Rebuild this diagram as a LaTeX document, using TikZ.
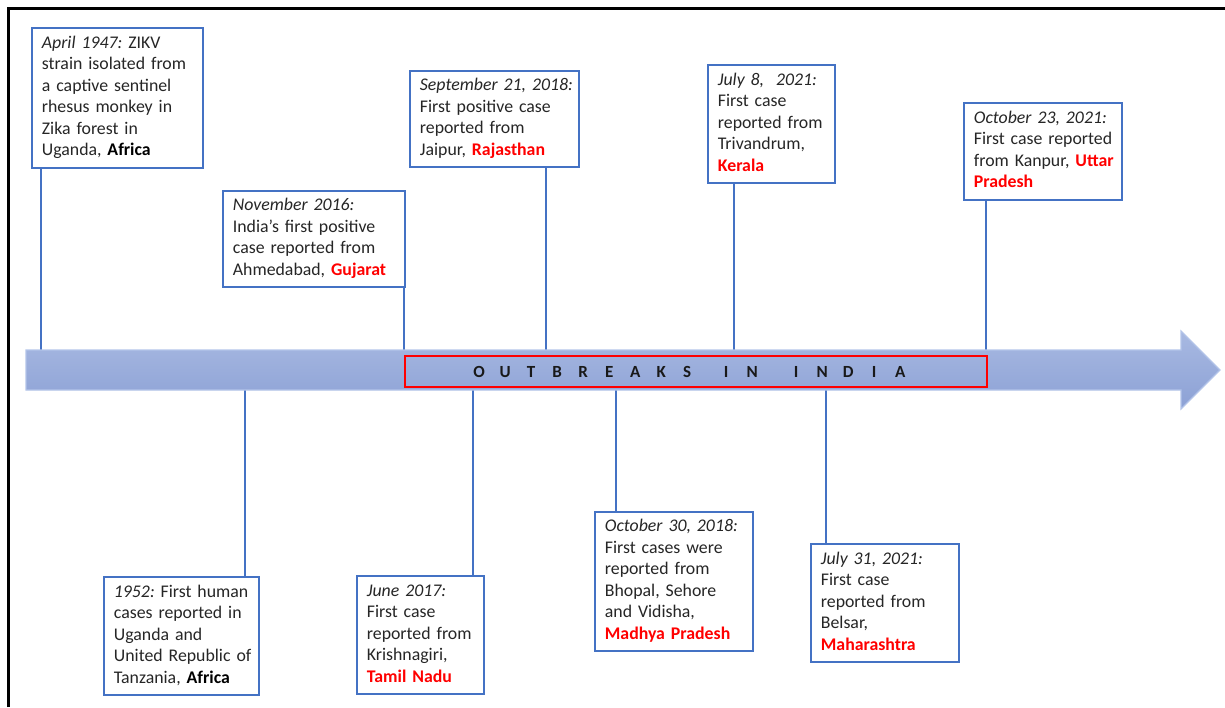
\documentclass[tikz,border=0pt]{standalone}
\usepackage{fontspec}
\setmainfont{Carlito}
\frenchspacing
\definecolor{boxblue}{HTML}{4472C4}
\definecolor{txt}{HTML}{262626}
\definecolor{hl}{HTML}{FF0000}
\definecolor{arrtop}{HTML}{A8B9E2}
\definecolor{arrbot}{HTML}{8CA1D5}
\definecolor{arredge}{HTML}{B3C4E9}
\newcommand\dt[1]{\textit{#1}}
\newcommand\st[1]{\textbf{\color{hl}#1}}
\newcommand\ct[1]{\textbf{\color{black}#1}}
\newcommand\lt[1]{\makebox[26pt]{#1}}
\newcommand\lines[1]{\begin{tabular}{@{}l@{}}#1\end{tabular}}
\tikzset{
  evbox/.style={draw=boxblue, line width=1.8pt, fill=white, anchor=north west,
    inner xsep=10pt, inner ysep=0pt, align=left, text=txt,
    font=\fontsize{17.8pt}{21.5pt}\selectfont},
  link/.style={draw=boxblue, line width=1.8pt},
  band/.style={draw=hl, line width=2pt, anchor=north west, inner sep=0pt},
  bandtext/.style={anchor=west, inner sep=0pt, font=\fontsize{17pt}{20pt}\selectfont\bfseries, text=black!90},
  frame/.style={draw=black, line width=2.5pt}
}
\begin{document}
\begin{tikzpicture}[x=1pt, y=-1pt]
\useasboundingbox (0,0) rectangle (1225,707);
\draw[frame] (8.5,707) -- (8.5,8.5) -- (1225,8.5);

% boxes
\node[evbox, text width=151pt, minimum height=140pt] (b1) at (31,27)
  {\lines{\dt{April 1947:} ZIKV\\ strain isolated from\\ a captive sentinel\\ rhesus monkey in\\ Zika forest in\\ Uganda, \ct{Africa}}};
\node[evbox, text width=162pt, minimum height=96pt] (b2) at (222,190)
  {\lines{\dt{November 2016:}\\ India’s first positive\\ case reported from\\ Ahmedabad, \st{Gujarat}}};
\node[evbox, text width=149pt, minimum height=96pt] (b3) at (409,70)
  {\lines{\dt{September 21, 2018:}\\ First positive case\\ reported from\\ Jaipur, \st{Rajasthan}}};
\node[evbox, text width=107pt, minimum height=118pt] (b4) at (707,64)
  {\lines{\dt{July 8,\ \ 2021:}\\ First case\\ reported from\\ Trivandrum,\\ \st{Kerala}}};
\node[evbox, text width=138pt, minimum height=97pt] (b5) at (963,102)
  {\lines{\dt{October 23, 2021:}\\ First case reported\\ from Kanpur, \st{Uttar}\\ \st{Pradesh}}};
\node[evbox, text width=135pt, minimum height=118pt] (d1b) at (103,576)
  {\lines{\dt{1952:} First human\\ cases reported in\\ Uganda and\\ United Republic of\\ Tanzania, \ct{Africa}}};
\node[evbox, text width=107pt, minimum height=118pt] (d2b) at (356,575)
  {\lines{\dt{June 2017:}\\ First case\\ reported from\\ Krishnagiri,\\ \st{Tamil Nadu}}};
\node[evbox, text width=138pt, minimum height=139pt] (d3b) at (594,511)
  {\lines{\dt{October 30, 2018:}\\ First cases were\\ reported from\\ Bhopal, Sehore\\ and Vidisha,\\ \st{Madhya Pradesh}}};
\node[evbox, text width=128pt, minimum height=118pt] (d4b) at (810,543)
  {\lines{\dt{July 31, 2021:}\\ First case\\ reported from\\ Belsar,\\ \st{Maharashtra}}};

% attachment points on the arrow
\coordinate (c1) at (41,350);
\coordinate (c2) at (404,350);
\coordinate (c3) at (546,350);
\coordinate (c4) at (734,350);
\coordinate (c5) at (986,350);
\coordinate (e1) at (245,390);
\coordinate (e2) at (473,390);
\coordinate (e3) at (616,390);
\coordinate (e4) at (826,390);

% connectors
\draw[link] (c1 |- b1.south) -- (c1);
\draw[link] (c2 |- b2.south) -- (c2);
\draw[link] (c3 |- b3.south) -- (c3);
\draw[link] (c4 |- b4.south) -- (c4);
\draw[link] (c5 |- b5.south) -- (c5);
\draw[link] (e1) -- (e1 |- d1b.north);
\draw[link] (e2) -- (e2 |- d2b.north);
\draw[link] (e3) -- (e3 |- d3b.north);
\draw[link] (e4) -- (e4 |- d4b.north);

% timeline arrow
\path[draw=arredge, line width=1.2pt, top color=arrtop, bottom color=arrbot]
  (26,350) -- (1181,350) -- (1181,331) -- (1220,370) -- (1181,409)
  -- (1181,390) -- (26,390) -- cycle;

\node[band, minimum width=582pt, minimum height=31pt] (band) at (404,355) {};
\node[bandtext] (title) at (466,371.5)
  {\lt{O}\lt{U}\lt{T}\lt{B}\lt{R}\lt{E}\lt{A}\lt{K}\lt{S}\hspace{13pt}\lt{I}\lt{N}\hspace{18pt}\lt{I}\lt{N}\lt{D}\lt{I}\lt{A}};
\end{tikzpicture}
\end{document}
